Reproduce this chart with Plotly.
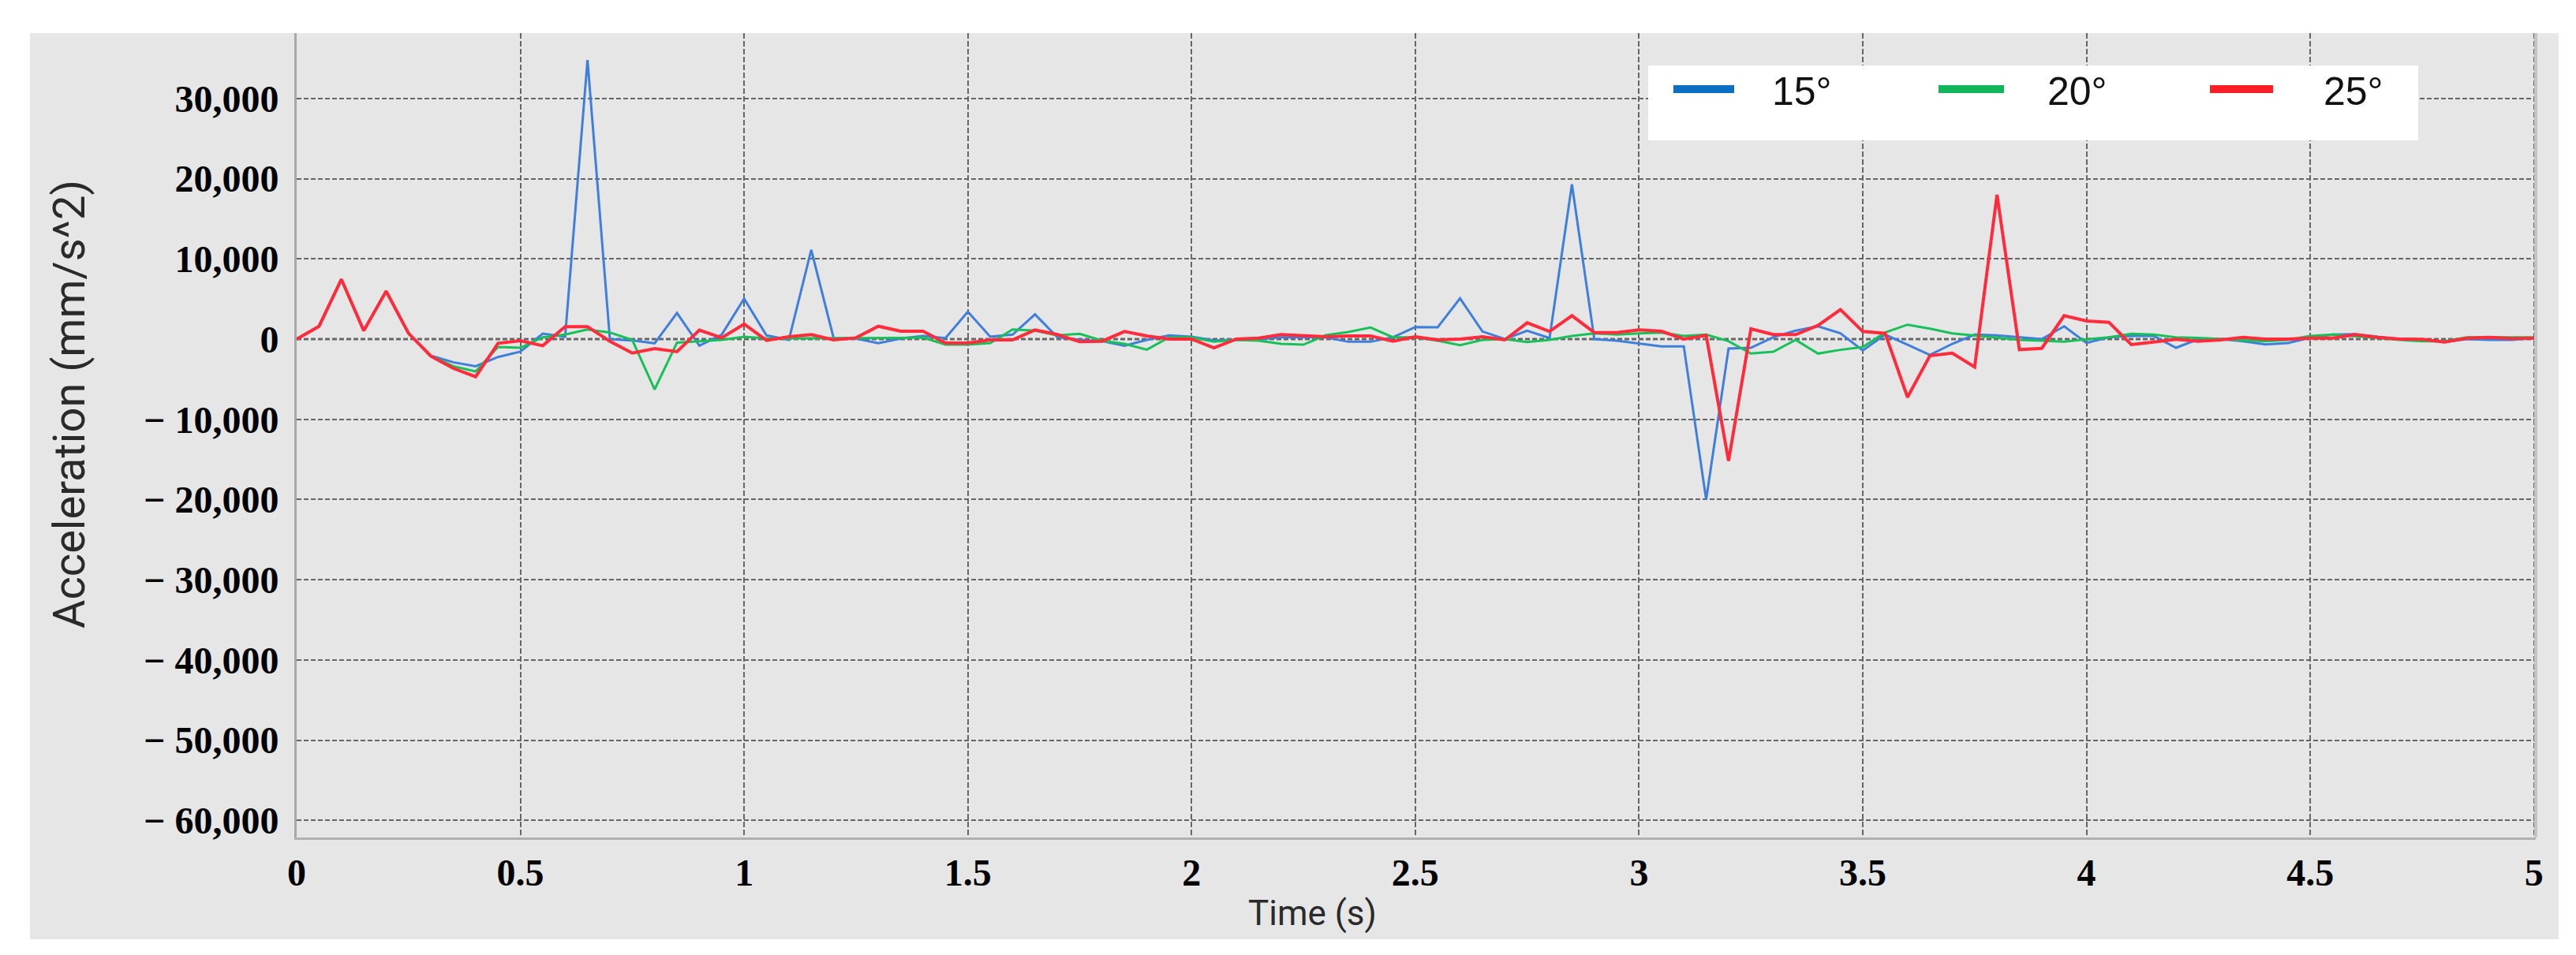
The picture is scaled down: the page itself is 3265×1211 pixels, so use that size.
import plotly.graph_objects as go

# ---------------- data ----------------
time_s = [0.00, 0.05, 0.10, 0.15, 0.20, 0.25, 0.30, 0.35, 0.40, 0.45,
          0.50, 0.55, 0.60, 0.65, 0.70, 0.75, 0.80, 0.85, 0.90, 0.95,
          1.00, 1.05, 1.10, 1.15, 1.20, 1.25, 1.30, 1.35, 1.40, 1.45,
          1.50, 1.55, 1.60, 1.65, 1.70, 1.75, 1.80, 1.85, 1.90, 1.95,
          2.00, 2.05, 2.10, 2.15, 2.20, 2.25, 2.30, 2.35, 2.40, 2.45,
          2.50, 2.55, 2.60, 2.65, 2.70, 2.75, 2.80, 2.85, 2.90, 2.95,
          3.00, 3.05, 3.10, 3.15, 3.20, 3.25, 3.30, 3.35, 3.40, 3.45,
          3.50, 3.55, 3.60, 3.65, 3.70, 3.75, 3.80, 3.85, 3.90, 3.95,
          4.00, 4.05, 4.10, 4.15, 4.20, 4.25, 4.30, 4.35, 4.40, 4.45,
          4.50, 4.55, 4.60, 4.65, 4.70, 4.75, 4.80, 4.85, 4.90, 4.95,
          5.00]

acc_15 = [0, 1600, 7450, 1050, 5970, 720, -2070, -2890, -3380, -2230,
          -1570, 690, 300, 34800, 0, -160, -520, 3250, -820, 560,
          5050, 460, -100, 11120, 130, 65, -520, 65, 390, 130,
          3410, 300, 560, 3080, 230, -100, -260, -820, -100, 460,
          300, -160, -100, -30, 230, 230, 230, -330, -330, 230,
          1500, 1480, 5080, 950, 0, 1050, 130, 19300, 0, -200,
          -590, -920, -920, -20000, -1180, -1080, 230, 1050, 1600, 720,
          -1410, 560, -690, -1970, -590, 560, 460, 230, 0, 1600,
          -490, 230, 390, 390, -1080, 0, 0, -260, -660, -490,
          160, 560, 620, 300, 0, -100, -360, 0, -100, -100,
          130]

acc_20 = [0, 1600, 7450, 1050, 5970, 720, -2100, -3380, -4030, -980,
          -1080, 230, 560, 1210, 820, -100, -6270, -430, -260, -100,
          300, 65, 100, 100, 100, 100, 100, 150, 200, -690,
          -690, -490, 1210, 1050, 460, 660, -200, -590, -1310, 230,
          230, -330, -100, -200, -590, -690, 490, 890, 1440, 230,
          230, -200, -750, -100, 0, -360, -100, 390, 720, 560,
          720, 820, 390, 560, -260, -1800, -1570, -100, -1800, -1340,
          -980, 820, 1800, 1310, 720, 460, 130, -100, -200, -330,
          -30, 230, 660, 560, 230, 160, 0, -100, -260, -100,
          390, 560, 390, 160, -100, -260, -260, 230, 230, 230,
          230]

acc_25 = [0, 1600, 7450, 1050, 5970, 720, -2130, -3640, -4690, -525,
          -200, -820, 1540, 1540, -260, -1740, -1180, -1570, 1115, 160,
          1870, -160, 300, 560, -100, 160, 1600, 980, 980, -490,
          -490, -100, -100, 1150, 560, -330, -260, 950, 390, 0,
          0, -1080, 0, 130, 560, 390, 300, 390, 390, -260,
          300, -100, 0, 300, -100, 2030, 950, 2920, 820, 820,
          1150, 980, 0, 460, -15190, 1280, 560, 560, 1700, 3670,
          950, 720, -7250, -2070, -1740, -3480, 18000, -1310, -1150, 2920,
          2260, 2100, -690, -360, -30, -260, -100, 230, 0, 0,
          130, 130, 560, 230, 0, -30, -360, 130, 230, 65,
          130]

series_names = ["15°", "20°", "25°"]
line_colors = ["#3F7FDC", "#17C157", "#FF2A3A"]
legend_colors = ["#0B6FC4", "#12B45C", "#FF1E24"]
line_widths = [3, 3, 4]

x_tick_vals = [0, 0.5, 1, 1.5, 2, 2.5, 3, 3.5, 4, 4.5, 5]
x_tick_text = ["0", "0.5", "1", "1.5", "2", "2.5", "3", "3.5", "4", "4.5", "5"]
y_tick_vals = [30000, 20000, 10000, 0, -10000, -20000, -30000, -40000, -50000, -60000]
y_tick_text = ["30,000", "20,000", "10,000", "0", "− 10,000", "− 20,000",
               "− 30,000", "− 40,000", "− 50,000", "− 60,000"]

# ---------------- layout geometry (pixels) ----------------
W, H = 3265, 1211
L, R, T, B = 368, 59, 34, 157
PW, PH = W - L - R, H - T - B


def px(xp):
    return (xp - L) / PW


def py(yp):
    return (H - B - yp) / PH


fig = go.Figure()
for name, ys, col, lw in zip(series_names, [acc_15, acc_20, acc_25], line_colors, line_widths):
    fig.add_trace(go.Scatter(x=time_s, y=ys, mode="lines", name=name,
                             line=dict(color=col, width=lw), showlegend=False))

shapes = []
# gray panel behind everything
shapes.append(dict(type="rect", xref="paper", yref="paper",
                   x0=px(30), x1=px(3235), y0=py(1183), y1=py(34),
                   fillcolor="#e6e6e6", line=dict(width=0), layer="below"))
# zero line (light, thick, dotted)
shapes.append(dict(type="line", xref="paper", yref="y", x0=0, x1=1, y0=0, y1=0,
                   line=dict(color="#a9a9a9", width=4, dash="6px,3px"), layer="below"))
# right border
shapes.append(dict(type="line", xref="paper", yref="paper", x0=1, x1=1, y0=0, y1=1,
                   line=dict(color="#c4c4c4", width=4), layer="above"))
# legend box
shapes.append(dict(type="rect", xref="paper", yref="paper",
                   x0=px(2081), x1=px(3057), y0=py(170), y1=py(75),
                   fillcolor="white", line=dict(width=0), layer="above"))
sw_x = [(2113, 2190), (2449, 2532), (2793, 2873)]
txt_x = [2236, 2585, 2935]
annotations = []
for (a, b), tx, col, name in zip(sw_x, txt_x, legend_colors, series_names):
    shapes.append(dict(type="line", xref="paper", yref="paper",
                       x0=px(a), x1=px(b), y0=py(105), y1=py(105),
                       line=dict(color=col, width=10), layer="above"))
    annotations.append(dict(text=name, xref="paper", yref="paper", x=px(tx), y=py(108),
                            xanchor="left", yanchor="middle", showarrow=False,
                            font=dict(family="Liberation Sans", size=50, color="#111111")))

annotations.append(dict(text="Acceleration (mm/s^2)", xref="paper", yref="paper",
                        x=px(80), y=py(505), textangle=-90, xanchor="center", yanchor="middle",
                        showarrow=False,
                        font=dict(family="Roboto", size=56, color="#2a2a2a")))
annotations.append(dict(text="Time (s)", xref="paper", yref="paper",
                        x=px(1655), y=py(1150), xanchor="center", yanchor="middle",
                        showarrow=False,
                        font=dict(family="Roboto", size=44, color="#2a2a2a")))

tick_font = dict(family="Liberation Serif", size=48, color="black", weight="bold")

fig.update_layout(
    width=W, height=H,
    margin=dict(l=L, r=R, t=T, b=B, pad=0),
    paper_bgcolor="white", plot_bgcolor="white",
    shapes=shapes, annotations=annotations,
    showlegend=False,
    xaxis=dict(range=[0, 5.004], tickmode="array", tickvals=x_tick_vals, ticktext=x_tick_text,
               showgrid=True, gridcolor="#666666", gridwidth=2, griddash="7px,3px",
               zeroline=False, showline=True, linecolor="#b0b0b0", linewidth=3,
               ticks="", ticklabelstandoff=0, tickfont=tick_font),
    yaxis=dict(range=[-62140, 38150], tickmode="array", tickvals=y_tick_vals, ticktext=y_tick_text,
               showgrid=True, gridcolor="#666666", gridwidth=2, griddash="6px,3px",
               zeroline=False, showline=True, linecolor="#a8a8a8", linewidth=3,
               ticks="", ticklabelstandoff=10, tickfont=tick_font),
)

fig.write_html("out.html")
